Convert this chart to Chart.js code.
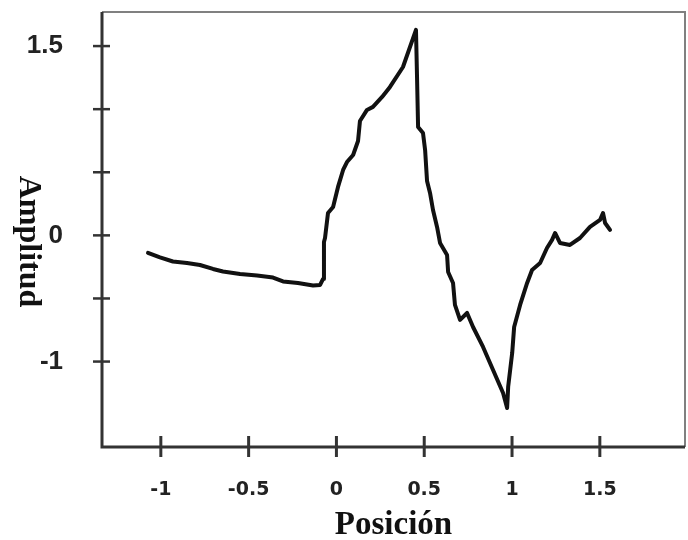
<!DOCTYPE html>
<html>
<head>
<meta charset="utf-8">
<script src="https://cdn.jsdelivr.net/npm/chart.js@4.4.0/dist/chart.umd.min.js"></script>
<style>
  html, body { margin: 0; padding: 0; background: #fff; }
  canvas { display: block; }
</style>
</head>
<body>
<canvas id="myChart" width="688" height="540"></canvas>
<script>
// values
var posicion = [-1.073, -1.005, -0.931, -0.851, -0.777, -0.703, -0.646, -0.549, -0.452, -0.361,
  -0.304, -0.219, -0.133, -0.093, -0.076, -0.071, -0.065, -0.048, -0.019, 0.009,
  0.038, 0.060, 0.095, 0.123, 0.134, 0.174, 0.208, 0.260, 0.305, 0.379,
  0.453, 0.459, 0.465, 0.493, 0.505, 0.516, 0.533, 0.550, 0.573, 0.590,
  0.630, 0.636, 0.664, 0.675, 0.704, 0.744, 0.778, 0.835, 0.892, 0.949,
  0.972, 0.978, 1.001, 1.012, 1.046, 1.086, 1.114, 1.160, 1.199, 1.228,
  1.245, 1.273, 1.330, 1.387, 1.444, 1.501, 1.518, 1.530, 1.558];
var amplitud = [-0.139, -0.175, -0.207, -0.219, -0.235, -0.266, -0.286, -0.306, -0.318, -0.334,
  -0.365, -0.377, -0.397, -0.393, -0.345, -0.052, -0.021, 0.177, 0.225, 0.384,
  0.518, 0.581, 0.637, 0.748, 0.906, 0.994, 1.018, 1.097, 1.176, 1.334,
  1.628, 1.255, 0.859, 0.811, 0.677, 0.431, 0.336, 0.201, 0.067, -0.060,
  -0.155, -0.290, -0.377, -0.551, -0.670, -0.615, -0.726, -0.884, -1.067, -1.249,
  -1.368, -1.200, -0.931, -0.726, -0.551, -0.377, -0.274, -0.219, -0.100, -0.036,
  0.019, -0.060, -0.076, -0.021, 0.067, 0.122, 0.177, 0.098, 0.043];

var xTicks = [-1, -0.5, 0, 0.5, 1, 1.5];
var yTicks = [-1, -0.5, 0, 0.5, 1, 1.5];
var yLabeled = [-1, 0, 1.5];
var xRange = [-1.335, 1.985];
var yRange = [-1.677, 1.77];

var puntos = posicion.map(function (p, i) { return { x: p, y: amplitud[i] }; });

var framePlugin = {
  id: 'frame',
  beforeDatasetsDraw: function (chart) {
    var c = chart.ctx, a = chart.chartArea;
    var xs = chart.scales.x, ys = chart.scales.y;
    c.save();
    // top and right edges are lighter in the scan
    c.strokeStyle = '#808080';
    c.lineWidth = 2;
    c.beginPath();
    c.moveTo(a.left, a.top);
    c.lineTo(a.right, a.top);
    c.lineTo(a.right, a.bottom);
    c.stroke();
    // axes
    c.strokeStyle = '#333';
    c.lineWidth = 3;
    c.beginPath();
    c.moveTo(a.left, a.top);
    c.lineTo(a.left, a.bottom);
    c.lineTo(a.right, a.bottom);
    c.stroke();
    // tick marks cross the axis
    c.lineWidth = 2.5;
    yTicks.forEach(function (v) {
      var y = ys.getPixelForValue(v);
      c.beginPath();
      c.moveTo(a.left - 9, y);
      c.lineTo(a.left + 8, y);
      c.stroke();
    });
    c.lineWidth = 3;
    xTicks.forEach(function (v) {
      var x = xs.getPixelForValue(v);
      c.beginPath();
      c.moveTo(x, a.bottom - 11);
      c.lineTo(x, a.bottom + 10);
      c.stroke();
    });
    c.restore();
  },
  afterDraw: function (chart) {
    // y title reads top to bottom
    var c = chart.ctx, a = chart.chartArea;
    c.save();
    c.translate(28, (a.top + a.bottom) / 2 + 12);
    c.rotate(Math.PI / 2);
    c.font = 'bold 32px "Liberation Serif"';
    c.fillStyle = '#111';
    c.textAlign = 'center';
    c.textBaseline = 'middle';
    c.fillText('Amplitud', 0, 0);
    c.restore();
  }
};

var ctx = document.getElementById('myChart').getContext('2d');

new Chart(ctx, {
  type: 'line',
  data: {
    datasets: [{
      data: puntos,
      borderColor: '#111',
      borderWidth: 4,
      borderJoinStyle: 'round',
      borderCapStyle: 'round',
      pointRadius: 0,
      tension: 0,
      fill: false
    }]
  },
  options: {
    responsive: false,
    animation: false,
    layout: { padding: { top: 12, right: 3, left: 0, bottom: 0 } },
    plugins: {
      legend: { display: false },
      tooltip: { enabled: false }
    },
    scales: {
      x: {
        type: 'linear',
        min: xRange[0],
        max: xRange[1],
        afterBuildTicks: function (s) { s.ticks = xTicks.map(function (v) { return { value: v }; }); },
        afterFit: function (s) {
          s.height = 93;
          s.paddingLeft = 0;
          s.paddingRight = 0;
        },
        grid: { display: false, drawTicks: false },
        border: { display: false },
        ticks: {
          autoSkip: false,
          maxRotation: 0,
          padding: 32,
          color: '#222',
          font: { family: '"DejaVu Sans"', size: 19, weight: 'bold' },
          callback: function (v) { return String(v); }
        },
        title: {
          display: true,
          text: 'Posición',
          color: '#111',
          padding: 0,
          font: { family: '"Liberation Serif"', size: 33, weight: 'bold', lineHeight: 0.9 }
        }
      },
      y: {
        min: yRange[0],
        max: yRange[1],
        afterBuildTicks: function (s) { s.ticks = yTicks.map(function (v) { return { value: v }; }); },
        afterFit: function (s) {
          s.width = 102;
          s.paddingTop = 0;
          s.paddingBottom = 0;
        },
        grid: { display: false, drawTicks: false },
        border: { display: false },
        ticks: {
          padding: 39,
          color: '#222',
          font: { family: '"Liberation Sans"', size: 26, weight: 'bold' },
          callback: function (v) { return yLabeled.indexOf(v) >= 0 ? String(v) : ''; }
        }
      }
    }
  },
  plugins: [framePlugin]
});
</script>
</body>
</html>
